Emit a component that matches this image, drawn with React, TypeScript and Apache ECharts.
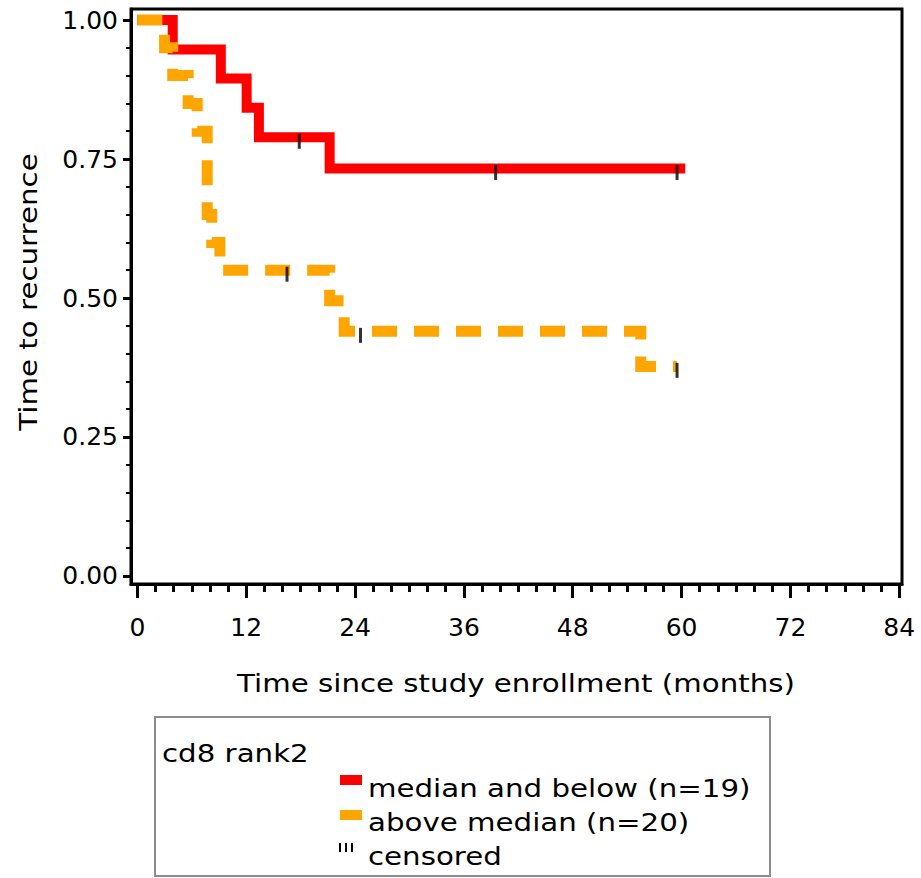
import React, { useEffect, useRef } from "react";
import * as echarts from "echarts";

// Kaplan-Meier step data (time in months, survival proportion)
const redTimes = [0, 3.9, 9.2, 12.05, 13.4, 21.2, 60.4];
const redSurv = [1, 0.947, 0.895, 0.842, 0.789, 0.733, 0.733];
const orangeTimes = [0, 3.0, 3.9, 5.6, 6.6, 7.7, 8.2, 9.1, 21.2, 22.8, 55.5, 59.5];
const orangeSurv = [1, 0.95, 0.9, 0.85, 0.8, 0.65, 0.6, 0.55, 0.495, 0.44, 0.377, 0.377];
// censored observations
const redCensorTimes = [17.85, 39.5, 59.5];
const redCensorSurv = [0.789, 0.733, 0.733];
const orangeCensorTimes = [16.5, 24.6, 59.5];
const orangeCensorSurv = [0.55, 0.44, 0.377];

// axis ticks
const xMajorTicks = [0, 12, 24, 36, 48, 60, 72, 84];
const xMinorTicks = [2, 4, 6, 8, 10, 14, 16, 18, 20, 22, 26, 28, 30, 32, 34, 38, 40, 42, 44, 46, 50, 52, 54, 56, 58, 62, 64, 66, 68, 70, 74, 76, 78, 80, 82];
const yMajorTicks = [0, 0.25, 0.5, 0.75, 1];
const yMinorTicks = [0.05, 0.1, 0.15, 0.2, 0.3, 0.35, 0.4, 0.45, 0.55, 0.6, 0.65, 0.7, 0.8, 0.85, 0.9, 0.95];

const seriesNames = ["median and below (n=19)", "above median (n=20)"];
const legendTitle = "cd8 rank2";
const censorLabel = "censored";
const xTitle = "Time since study enrollment (months)";
const yTitle = "Time to recurrence";

const RED = "#ff0000";
const ORANGE = "#ffa500";
const FONT = "DejaVu Sans";

export default function App() {
  const ref = useRef<HTMLDivElement>(null);
  useEffect(() => {
    document.body.style.margin = "0";
    const chart = echarts.init(ref.current!, null, { renderer: "svg" });
    const zip = (a: number[], b: number[]) => a.map((v, i) => [v, b[i]]);
    const xMin = -0.7, xMax = 84.3, yMin = -0.0144, yMax = 1.0198;
    const txt = (text: string, x: number, y: number, extra: any = {}) => ({
      type: "text",
      x,
      y,
      scaleX: 1.22,
      ...extra,
      style: {
        text,
        font: `24px "${FONT}"`,
        fill: "#000",
        textAlign: extra.align || "left",
        textVerticalAlign: "middle",
      },
    });
    const axisLine = { show: true, onZero: false, lineStyle: { color: "#000", width: 3 } };
    chart.setOption({
      animation: false,
      backgroundColor: "#fff",
      grid: {
        left: 131,
        right: 19,
        top: 9,
        bottom: 294,
        show: true,
        borderColor: "#000",
        borderWidth: 3,
        backgroundColor: "transparent",
      },
      xAxis: [
        {
          type: "value",
          min: xMin,
          max: xMax,
          position: "bottom",
          axisLine,
          axisTick: { show: true, customValues: xMajorTicks, length: 14, lineStyle: { color: "#000", width: 3 } },
          axisLabel: {
            show: true,
            customValues: xMajorTicks,
            margin: 31,
            fontFamily: FONT,
            fontSize: 25,
            color: "#000",
          },
          splitLine: { show: false },
        },
        {
          type: "value",
          min: xMin,
          max: xMax,
          position: "bottom",
          axisLine: { show: false, onZero: false },
          axisTick: { show: true, customValues: xMinorTicks, length: 8, lineStyle: { color: "#000", width: 3 } },
          axisLabel: { show: false },
          splitLine: { show: false },
        },
      ],
      yAxis: [
        {
          type: "value",
          min: yMin,
          max: yMax,
          position: "left",
          axisLine,
          axisTick: { show: true, customValues: yMajorTicks, length: 8, lineStyle: { color: "#000", width: 3 } },
          axisLabel: {
            show: true,
            customValues: yMajorTicks,
            formatter: (v: number) => v.toFixed(2),
            margin: 13,
            fontFamily: FONT,
            fontSize: 25,
            color: "#000",
          },
          splitLine: { show: false },
        },
        {
          type: "value",
          min: yMin,
          max: yMax,
          position: "left",
          axisLine: { show: false, onZero: false },
          axisTick: { show: true, customValues: yMinorTicks, length: 5, lineStyle: { color: "#000", width: 2 } },
          axisLabel: { show: false },
          splitLine: { show: false },
        },
      ],
      series: [
        {
          name: seriesNames[0],
          type: "line",
          step: "end",
          data: zip(redTimes, redSurv),
          showSymbol: false,
          symbol: "none",
          lineStyle: { color: RED, width: 10, join: "miter", cap: "butt" },
          z: 2,
        },
        {
          name: seriesNames[1],
          type: "line",
          step: "end",
          data: zip(orangeTimes, orangeSurv),
          showSymbol: false,
          symbol: "none",
          lineStyle: { color: ORANGE, width: 11, type: [25, 17], join: "miter", cap: "butt" },
          z: 3,
        },
        {
          name: "censored-red",
          type: "scatter",
          data: zip(redCensorTimes, redCensorSurv),
          symbol: "rect",
          symbolSize: [3, 15],
          symbolOffset: [0, 4],
          itemStyle: { color: "#000" },
          z: 5,
        },
        {
          name: "censored-orange",
          type: "scatter",
          data: zip(orangeCensorTimes, orangeCensorSurv),
          symbol: "rect",
          symbolSize: [3, 15],
          symbolOffset: [0, 4],
          itemStyle: { color: "#000" },
          z: 5,
        },
      ],
      graphic: [
        txt(xTitle, 516, 683, { align: "center" }),
        txt(yTitle, 28, 292, { align: "center", rotation: Math.PI / 2 }),
        {
          type: "rect",
          shape: { x: 155, y: 717, width: 615, height: 159 },
          style: { fill: "none", stroke: "#8c8c8c", lineWidth: 2 },
        },
        txt(legendTitle, 162, 753),
        { type: "rect", shape: { x: 340, y: 775, width: 22, height: 10 }, style: { fill: RED } },
        txt(seriesNames[0], 368, 788),
        { type: "rect", shape: { x: 340, y: 810, width: 22, height: 10 }, style: { fill: ORANGE } },
        txt(seriesNames[1], 368, 822),
        { type: "rect", shape: { x: 339, y: 843, width: 2, height: 9 }, style: { fill: "#000" } },
        { type: "rect", shape: { x: 345, y: 843, width: 2, height: 9 }, style: { fill: "#000" } },
        { type: "rect", shape: { x: 351, y: 843, width: 2, height: 9 }, style: { fill: "#000" } },
        txt(censorLabel, 368, 856),
      ],
    });
    return () => chart.dispose();
  }, []);
  return <div ref={ref} style={{ width: 921, height: 878 }} />;
}
